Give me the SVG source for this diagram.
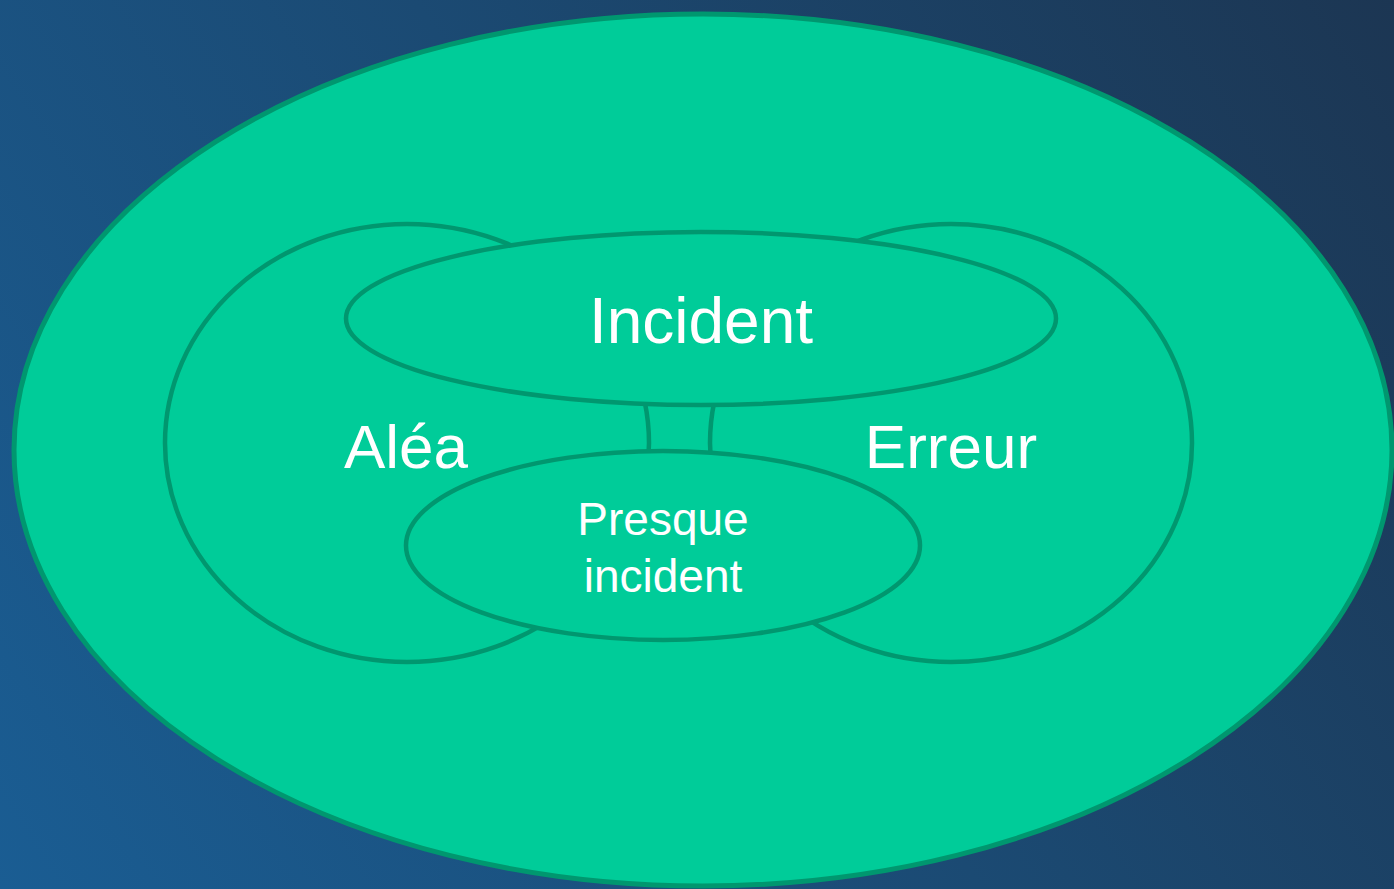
<svg xmlns="http://www.w3.org/2000/svg" width="1394" height="889" viewBox="0 0 1394 889">
  <defs>
    <linearGradient id="bg" x1="0" y1="889" x2="1394" y2="0" gradientUnits="userSpaceOnUse">
      <stop offset="0" stop-color="#1A5D93"/>
      <stop offset="0.5" stop-color="#1B4A73"/>
      <stop offset="1" stop-color="#1C3653"/>
    </linearGradient>
  </defs>
  <style>
    .shape { fill: #00CC99; stroke: #00976F; }
    .outer { stroke-width: 5; }
    .inner { stroke-width: 4.5; }
    .label { fill: #FFFFFF; font-family: "Liberation Sans", Arial, sans-serif; text-anchor: middle; }
  </style>
  <rect width="1394" height="889" fill="url(#bg)"/>
  <g id="universe">
    <ellipse class="shape outer" cx="703" cy="450" rx="689" ry="436"/>
  </g>
  <g id="alea">
    <ellipse class="shape inner" cx="407" cy="443" rx="242" ry="219"/>
    <text class="label" x="406" y="468" font-size="62">Aléa</text>
  </g>
  <g id="erreur">
    <ellipse class="shape inner" cx="951" cy="443" rx="241" ry="219"/>
    <text class="label" x="951" y="468" font-size="62">Erreur</text>
  </g>
  <g id="incident">
    <ellipse class="shape inner" cx="701" cy="318.5" rx="355" ry="86.5"/>
    <text class="label" x="701" y="343" font-size="64">Incident</text>
  </g>
  <g id="presque-incident">
    <ellipse class="shape inner" cx="663" cy="545.5" rx="257" ry="94.5"/>
    <text class="label" x="663" y="535" font-size="46">Presque</text>
    <text class="label" x="663" y="592" font-size="46">incident</text>
  </g>
  <g id="connectors"></g>
</svg>
